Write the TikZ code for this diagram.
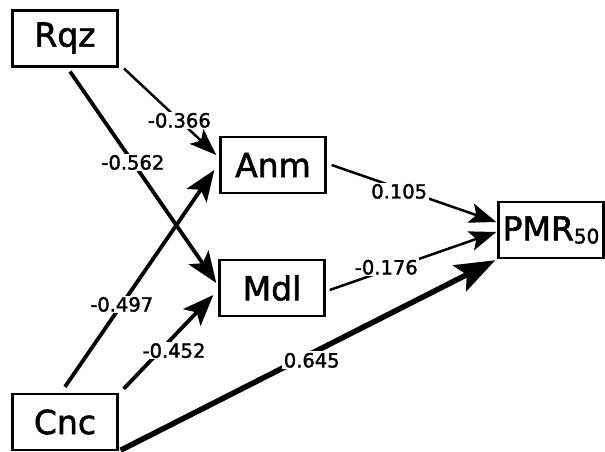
\documentclass[tikz,border=0pt]{standalone}
\usepackage{fontspec}
\setmainfont{DejaVu Sans}
\newfontfamily\scanfont{DejaVu Sans}[FakeBold=1.8]
\usetikzlibrary{arrows.meta}

\tikzset{
	var/.style={draw, line width=2.4pt, minimum width=105pt, minimum height=56pt,
		inner sep=0pt, font=\scanfont\fontsize{33}{35}\selectfont},
	coef/.style={fill=white, inner sep=1.5pt, font=\scanfont\fontsize{19.5}{21}\selectfont},
	weak/.style={line width=2.5pt, -{Stealth[length=27pt, width=20pt, inset=6pt]}},
	mid/.style={line width=3.8pt, -{Stealth[length=31pt, width=24pt, inset=7pt]}},
	strong/.style={line width=5.5pt, -{Stealth[length=40pt, width=29pt, inset=8pt]}},
}

\begin{document}
\begin{tikzpicture}[x=1pt, y=-1pt]
	\useasboundingbox (0,0) rectangle (605,451);
	
	\node[var, line width=3pt] (rqz) at (65,38) {Rqz};
	\node[var] (anm) at (273,165) {Anm};
	\node[var] (mdl) at (272,288) {Mdl};
	\node[var] (pmr) at (551,230) {PMR\raisebox{-3pt}{\fontsize{20}{20}\selectfont 50}};
	\node[var] (cnc) at (65,422) {Cnc};
	
	% paths from Rqz
	\draw[weak] ([xshift=5pt,yshift=-1pt]rqz.south east) -- ([xshift=-3pt,yshift=10pt]anm.west)
		node[coef, pos=0.6] {-0.366};
	\draw[mid] ([xshift=5pt,yshift=-4pt]rqz.south) -- ([xshift=-2pt,yshift=5pt]mdl.west)
		node[coef, pos=0.43] {-0.562};
	
	% paths from Cnc
	\draw[mid] ([yshift=6pt]cnc.north) -- ([xshift=-5pt,yshift=-5pt]anm.west)
		node[coef, pos=0.38] {-0.497};
	\draw[mid] ([xshift=5pt,yshift=4pt]cnc.north east) -- ([xshift=-5pt,yshift=-7pt]mdl.west)
		node[coef, pos=0.45, xshift=10pt, yshift=-4pt] {-0.452};
	\draw[strong] ([xshift=2pt,yshift=1pt]cnc.south east) -- ([xshift=-2pt,yshift=-1pt]pmr.south west)
		node[coef, pos=0.51, yshift=-7pt] {0.645};
	
	% paths to PMR50
	\draw[weak] ([xshift=5pt]anm.east) -- ([xshift=-1pt,yshift=8pt]pmr.west)
		node[coef, pos=0.41, yshift=-3pt] {0.105};
	\draw[weak] ([xshift=4pt,yshift=-2pt]mdl.east) -- ([xshift=-1pt,yshift=-2pt]pmr.west)
		node[coef, pos=0.34, yshift=3pt] {-0.176};
\end{tikzpicture}
\end{document}
